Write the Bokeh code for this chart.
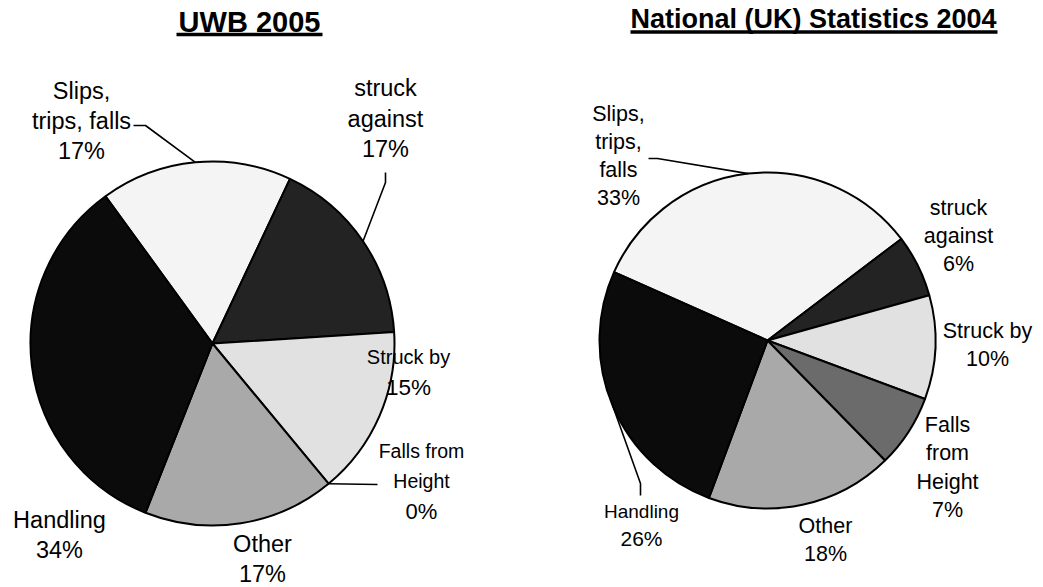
import math
from bokeh.plotting import figure
from bokeh.models import Range1d, ColumnDataSource
from bokeh.embed import file_html
from bokeh.resources import INLINE
from bokeh.core.properties import value

W, H = 1043, 587
TEXT_SHIFT = 9.5  # renderer places alphabetic baseline slightly low; compensate

# ---------------- data ----------------
categories = ["Slips, trips, falls", "struck against", "Struck by",
              "Falls from Height", "Other", "Handling"]
uwb_2005 = [17, 17, 15, 0, 17, 34]
uk_2004 = [33, 6, 10, 7, 18, 26]
titles = ["UWB 2005", "National (UK) Statistics 2004"]
colors = ["#f4f4f4", "#232323", "#e1e1e1", "#6b6b6b", "#a9a9a9", "#0b0b0b"]

left_label_lines = [["Slips,", "trips, falls"], ["struck", "against"], ["Struck by"],
                    ["Falls from", "Height"], ["Other"], ["Handling"]]
right_label_lines = [["Slips,", "trips,", "falls"], ["struck", "against"], ["Struck by"],
                     ["Falls", "from", "Height"], ["Other"], ["Handling"]]

# ---------------- layout (pixel coords, y down) ----------------
pies = [
    dict(values=uwb_2005, lines=left_label_lines, cx=212, cy=343, r=182, start=-36,
         title_x=249, title_base=31, title_size="29px", ul=(176, 322, 34),
         # label: x centre, first baseline, pitch, name size, pct size
         labels=[(81, 100, 30, "23.5px", "23.5px"),
                 (385, 97, 30.5, "23.5px", "23.5px"),
                 (408, 366, 30, "20px", "22.5px"),
                 (421, 460, 30, "19.5px", "22px"),
                 (262, 553, 30, "23.5px", "23.5px"),
                 (59, 529, 30, "23.5px", "23.5px")],
         leaders={0: [(133, 125), (145, 125)], 1: [(385, 172), (385, 182)], 3: [(377, 484)]}),
    dict(values=uk_2004, lines=right_label_lines, cx=767, cy=340, r=168, start=-66,
         title_x=813, title_base=28, title_size="27px", ul=(630, 997, 31.5),
         labels=[(618, 123, 28, "21.5px", "21.5px"),
                 (958, 217, 28, "21.5px", "21.5px"),
                 (987, 340, 28, "21.5px", "21.5px"),
                 (947, 434, 28.3, "21.5px", "21.5px"),
                 (825, 535, 27.5, "21.5px", "21.5px"),
                 (641, 520, 27, "19px", "21px")],
         leaders={0: [(648, 158), (657, 158)], 5: [(640, 495), (640, 483)]}),
]

p = figure(width=W, height=H, x_range=Range1d(0, W), y_range=Range1d(0, H),
           output_backend="svg", toolbar_location=None, min_border=0,
           x_axis_type=None, y_axis_type=None)
p.grid.visible = False
p.outline_line_color = None
p.background_fill_color = "white"

FONT = value("Liberation Sans")

wx, wy, wr, ws, we, wc = [], [], [], [], [], []
tx, ty, tt, tsz = [], [], [], []
lxs, lys = [], []

for pie in pies:
    vals = pie["values"]
    total = float(sum(vals))
    cum = 0.0
    for i, v in enumerate(vals):
        th0 = pie["start"] + 360.0 * cum / total
        cum += v
        th1 = pie["start"] + 360.0 * cum / total
        if v > 0:
            wx.append(pie["cx"]); wy.append(H - pie["cy"]); wr.append(pie["r"])
            ws.append(math.radians(90 - th1)); we.append(math.radians(90 - th0))
            wc.append(colors[i])
        # labels
        lx, lb, pitch, nsize, psize = pie["labels"][i]
        lines = pie["lines"][i] + [f"{round(100 * v / total)}%"]
        for k, t in enumerate(lines):
            tx.append(lx); ty.append(H - (lb + k * pitch) + TEXT_SHIFT); tt.append(t)
            tsz.append(psize if k == len(lines) - 1 else nsize)
        # leader line to slice midpoint on the rim
        if i in pie["leaders"]:
            mid = math.radians((th0 + th1) / 2.0)
            px = pie["cx"] + pie["r"] * math.sin(mid)
            py = pie["cy"] - pie["r"] * math.cos(mid)
            pts = pie["leaders"][i] + [(px, py)]
            lxs.append([q[0] for q in pts]); lys.append([H - q[1] for q in pts])

wsrc = ColumnDataSource(dict(x=wx, y=wy, r=wr, s=ws, e=we, c=wc))
p.wedge(x="x", y="y", radius="r", start_angle="s", end_angle="e", direction="anticlock",
        fill_color="c", line_color="black", line_width=2, source=wsrc)

p.multi_line(xs=lxs, ys=lys, line_color="black", line_width=1.6)

tsrc = ColumnDataSource(dict(x=tx, y=ty, t=tt, s=tsz))
p.text(x="x", y="y", text="t", text_font_size="s", text_font=FONT, text_color="black",
       text_align="center", text_baseline="alphabetic", source=tsrc)

# titles (bold, underlined)
for pie, title in zip(pies, titles):
    p.text(x=[pie["title_x"]], y=[H - pie["title_base"] + TEXT_SHIFT], text=[title],
           text_font=FONT, text_font_style="bold", text_font_size=pie["title_size"],
           text_align="center", text_baseline="alphabetic", text_color="black")
    x0, x1, uy = pie["ul"]
    p.line(x=[x0, x1], y=[H - uy, H - uy], line_color="black", line_width=3.5)

open("out.html", "w").write(file_html(p, INLINE))
